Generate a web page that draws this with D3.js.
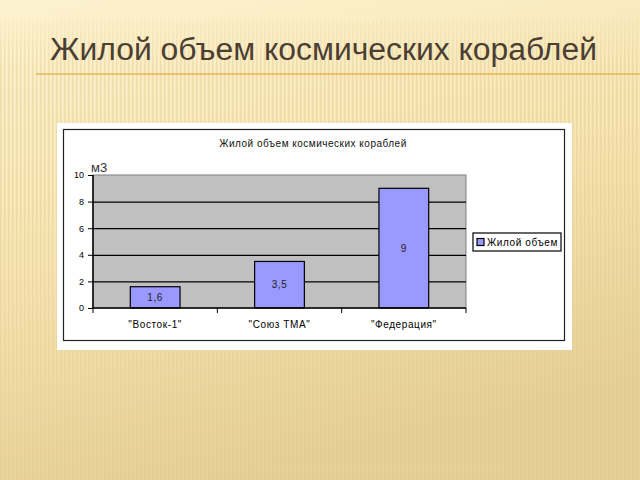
<!DOCTYPE html>
<html>
<head>
<meta charset="utf-8">
<script src="https://cdn.jsdelivr.net/npm/d3@7"></script>
<style>
  body { margin: 0; }
  svg { display: block; }
</style>
</head>
<body>
<svg></svg>
<script>
// данные диаграммы
const ships = ['"Восток-1"', '"Союз ТМА"', '"Федерация"'];
const volumes = [1.6, 3.5, 9];
const valueLabels = ["1,6", "3,5", "9"];
const yTicks = [0, 2, 4, 6, 8, 10];
const seriesName = "Жилой объем";
const slideTitle = "Жилой объем космических кораблей";

const width = 640, height = 480;
const svg = d3.select("svg").attr("width", width).attr("height", height);

// фон слайда
const defs = svg.append("defs");
const grad = defs.append("linearGradient").attr("id", "bg")
    .attr("x1", 0).attr("y1", 0).attr("x2", 0.3).attr("y2", 1);
grad.append("stop").attr("offset", "0%").attr("stop-color", "#fdf2cf");
grad.append("stop").attr("offset", "55%").attr("stop-color", "#f6e3b0");
grad.append("stop").attr("offset", "100%").attr("stop-color", "#e6d097");

const stripes = defs.append("pattern").attr("id", "stripes")
    .attr("width", 4).attr("height", 10).attr("patternUnits", "userSpaceOnUse");
stripes.append("rect").attr("width", 1.5).attr("height", 10)
    .attr("fill", "#d9c07a").attr("opacity", 0.35);

const fadeGrad = defs.append("linearGradient").attr("id", "fade")
    .attr("x1", 0).attr("y1", 0).attr("x2", 0).attr("y2", 1);
fadeGrad.append("stop").attr("offset", "0%").attr("stop-color", "white").attr("stop-opacity", 0);
fadeGrad.append("stop").attr("offset", "15%").attr("stop-color", "white").attr("stop-opacity", 1);
fadeGrad.append("stop").attr("offset", "100%").attr("stop-color", "white").attr("stop-opacity", 0.6);
defs.append("mask").attr("id", "stripeMask")
    .append("rect").attr("width", width).attr("height", height).attr("fill", "url(#fade)");

svg.append("rect").attr("width", width).attr("height", height).attr("fill", "url(#bg)");
svg.append("rect").attr("y", 20).attr("width", width).attr("height", height - 20)
    .attr("fill", "url(#stripes)").attr("mask", "url(#stripeMask)");

// заголовок слайда
svg.append("text")
    .attr("x", 50).attr("y", 60)
    .attr("textLength", 547).attr("lengthAdjust", "spacingAndGlyphs")
    .style("font-family", "'Liberation Sans', Arial, sans-serif")
    .style("font-size", "31px")
    .style("fill", "#4b3f33")
    .text(slideTitle);

svg.append("line")
    .attr("x1", 36).attr("x2", width).attr("y1", 74).attr("y2", 74)
    .style("stroke", "#e8b45a").style("stroke-width", 1.5);

// картинка с диаграммой
svg.append("rect")
    .attr("x", 57).attr("y", 123).attr("width", 515).attr("height", 227)
    .style("fill", "white");
svg.append("rect")
    .attr("x", 63.5).attr("y", 129.5).attr("width", 501).attr("height", 211)
    .style("fill", "white").style("stroke", "#222").style("stroke-width", 1.2);

const font = "'Liberation Sans', Arial, sans-serif";

svg.append("text")
    .attr("x", 313).attr("y", 147)
    .attr("text-anchor", "middle")
    .style("font-family", font).style("font-size", "10px")
    .style("letter-spacing", "0.5px").style("fill", "#111")
    .text(slideTitle);

const plot = { left: 93, right: 466, top: 175, bottom: 308 };

const x = d3.scaleBand()
    .domain(ships)
    .range([plot.left, plot.right])
    .paddingInner(0.6).paddingOuter(0.3);

const y = d3.scaleLinear()
    .domain([0, 10])
    .range([plot.bottom, plot.top]);

const g = svg.append("g");

// серая область построения
g.append("rect")
    .attr("x", plot.left).attr("y", plot.top)
    .attr("width", plot.right - plot.left).attr("height", plot.bottom - plot.top)
    .style("fill", "#c0c0c0").style("stroke", "#808080").style("stroke-width", 1);

// линии сетки
g.append("g")
    .attr("transform", `translate(${plot.left},0)`)
    .call(d3.axisLeft(y).tickValues(yTicks.filter(d => d > 0 && d < 10))
        .tickSize(-(plot.right - plot.left)).tickFormat(""))
    .call(a => a.select(".domain").remove())
    .call(a => a.selectAll("line").style("stroke", "#000").style("stroke-width", 1.2));

// столбики
g.selectAll(".bar")
    .data(volumes)
    .enter()
    .append("rect")
    .attr("class", "bar")
    .attr("x", (d, i) => x(ships[i]))
    .attr("y", d => y(d))
    .attr("width", x.bandwidth())
    .attr("height", d => y(0) - y(d))
    .style("fill", "#9999ff")
    .style("stroke", "#000")
    .style("stroke-width", 1.2);

// подписи значений
g.selectAll(".val")
    .data(volumes)
    .enter()
    .append("text")
    .attr("x", (d, i) => x(ships[i]) + x.bandwidth() / 2)
    .attr("y", d => (y(d) + y(0)) / 2 + 3.5)
    .attr("text-anchor", "middle")
    .style("font-family", font).style("font-size", "10px")
    .style("letter-spacing", "0.6px").style("fill", "#222")
    .text((d, i) => valueLabels[i]);

// ось Y
g.append("g")
    .attr("transform", `translate(${plot.left},0)`)
    .call(d3.axisLeft(y).tickValues(yTicks).tickSize(5).tickPadding(4))
    .call(a => a.select(".domain").attr("d", `M0,${plot.top}V${plot.bottom}`)
        .style("stroke", "#000").style("stroke-width", 1.5))
    .call(a => a.selectAll("line").style("stroke", "#000"))
    .call(a => a.selectAll("text").style("font-family", font)
        .style("font-size", "9px").style("fill", "#000"));

// ось X
const xAxis = g.append("g")
    .attr("transform", `translate(0,${plot.bottom})`)
    .call(d3.axisBottom(x).tickSize(0).tickPadding(13))
    .call(a => a.select(".domain").attr("d", `M${plot.left},0H${plot.right}`)
        .style("stroke", "#000").style("stroke-width", 1.5))
    .call(a => a.selectAll("text").style("font-family", font)
        .style("font-size", "10px").style("letter-spacing", "0.6px").style("fill", "#000"));

// засечки между категориями
xAxis.selectAll(".sep")
    .data(d3.range(ships.length + 1))
    .enter()
    .append("line")
    .attr("x1", i => plot.left + i * (plot.right - plot.left) / ships.length)
    .attr("x2", i => plot.left + i * (plot.right - plot.left) / ships.length)
    .attr("y1", 0).attr("y2", 5)
    .style("stroke", "#000");

// подпись единиц
svg.append("text")
    .attr("x", 91).attr("y", 172)
    .style("font-family", font).style("font-size", "13px").style("fill", "#333")
    .text("м3");

// легенда
const legend = svg.append("g").attr("transform", "translate(473,233)");
legend.append("rect")
    .attr("width", 88).attr("height", 18)
    .style("fill", "white").style("stroke", "#000").style("stroke-width", 1.2);
legend.append("rect")
    .attr("x", 4).attr("y", 5.5).attr("width", 7).attr("height", 7)
    .style("fill", "#9999ff").style("stroke", "#000").style("stroke-width", 1.2);
legend.append("text")
    .attr("x", 14).attr("y", 12.5)
    .style("font-family", font).style("font-size", "10px")
    .style("letter-spacing", "0.6px").style("fill", "#000")
    .text(seriesName);
</script>
</body>
</html>
